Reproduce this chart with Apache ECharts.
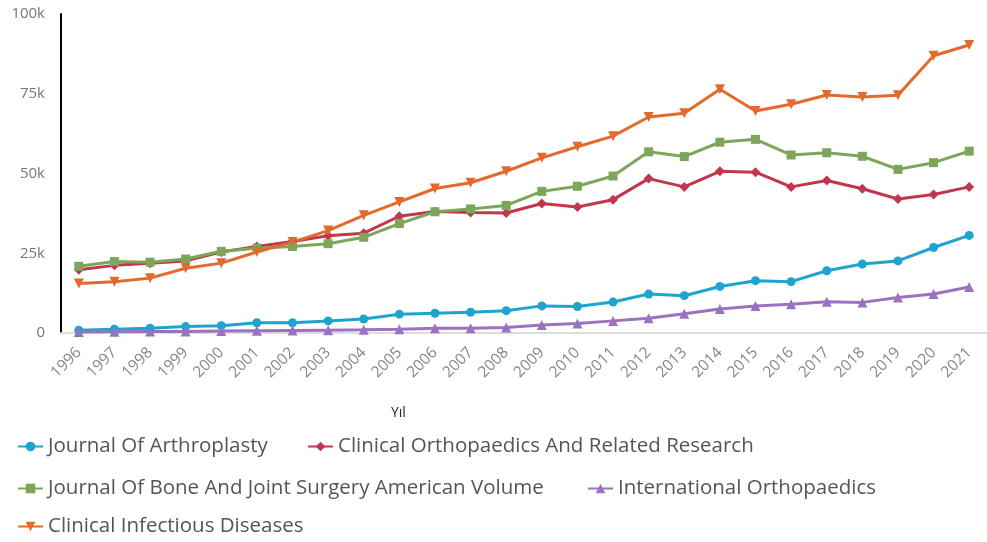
<!DOCTYPE html>
<html>
<head>
<meta charset="utf-8">
<script src="https://cdn.jsdelivr.net/npm/echarts@6/dist/echarts.min.js"></script>
<style>html,body{margin:0;padding:0;background:#fff}#c{width:987px;height:542px}</style>
</head>
<body>
<div id="c"></div>
<script>
const years = ['1996','1997','1998','1999','2000','2001','2002','2003','2004','2005','2006','2007','2008','2009','2010','2011','2012','2013','2014','2015','2016','2017','2018','2019','2020','2021'];
const yTicks = [0, 25000, 50000, 75000, 100000];
const names = ['Journal Of Arthroplasty','Clinical Orthopaedics And Related Research','Journal Of Bone And Joint Surgery American Volume','International Orthopaedics','Clinical Infectious Diseases'];
const arthroplasty = [900,1200,1500,2000,2300,3200,3200,3800,4400,5900,6200,6500,7000,8500,8300,9700,12200,11700,14600,16400,16100,19500,21600,22600,26800,30600];
const corr = [19800,21200,21900,22600,25400,27100,28700,30500,31300,36600,38100,37800,37600,40600,39500,41800,48400,45800,50700,50400,45800,47800,45200,42000,43400,45800];
const jbjs = [20900,22400,22200,23200,25600,26600,27100,28000,30000,34300,38000,38900,40000,44400,46000,49200,56800,55300,59800,60700,55800,56500,55400,51300,53400,57000];
const intlOrtho = [300,400,500,500,600,700,800,900,1000,1200,1500,1500,1700,2500,3000,3800,4600,6000,7500,8500,9000,9800,9600,11100,12200,14400];
const cid = [15500,16100,17200,20300,21900,25400,28500,32100,36900,41100,45300,47100,50700,54900,58400,61700,67700,68900,76400,69600,71700,74600,74000,74500,86900,90300];
const axisName = 'Yıl';

const colors = ['#1fa3cf','#c2374d','#7ea65a','#9a72bf','#e4692c'];
const symbols = ['circle','diamond','rect','triangle','triangle'];
const sizes = [9,10,9,10,10];
const rotates = [0,0,0,0,180];
const dataSets = [arthroplasty, corr, jbjs, intlOrtho, cid];

const legendPos = [[17,436],[307,436],[17,478],[587,478],[17,516]];

const chart = echarts.init(document.getElementById('c'));
chart.setOption({
  animation: false,
  backgroundColor: '#fff',
  title: {
    text: axisName, left: 386, top: 401,
    textStyle: {fontFamily: 'Open Sans', fontSize: 14, fontWeight: 'normal', color: '#222'}
  },
  legend: names.map((n, i) => ({
    data: [n], left: legendPos[i][0], top: legendPos[i][1], padding: 0,
    itemWidth: 25, itemHeight: 12, itemGap: 0,
    textStyle: {fontFamily: 'Open Sans', fontSize: 20.5, color: '#555'}
  })),
  grid: {left: 61, right: -10, top: 14, bottom: 209, containLabel: false},
  xAxis: {
    type: 'category', data: years, boundaryGap: true,
    axisLine: {show: true, lineStyle: {color: '#dddddd', width: 2}},
    axisTick: {show: false},
    axisLabel: {rotate: 45, color: '#888', fontFamily: 'Open Sans', fontSize: 15.5, margin: 17, interval: 0},
    splitLine: {show: false}
  },
  yAxis: {
    type: 'value', min: yTicks[0], max: yTicks[yTicks.length-1], interval: yTicks[1]-yTicks[0],
    axisLine: {show: true, lineStyle: {color: '#000', width: 2}},
    axisTick: {show: false},
    splitLine: {show: false},
    axisLabel: {color: '#777', fontFamily: 'Open Sans', fontSize: 15, margin: 16,
      formatter: v => v === 0 ? '0' : (v/1000) + 'k'}
  },
  series: names.map((n, i) => ({
    name: n, type: 'line', data: dataSets[i],
    symbol: symbols[i], symbolSize: sizes[i], symbolRotate: rotates[i],
    showAllSymbol: true,
    lineStyle: {color: colors[i], width: 3},
    itemStyle: {color: colors[i]},
    emphasis: {disabled: true}
  }))
});
</script>
</body>
</html>
